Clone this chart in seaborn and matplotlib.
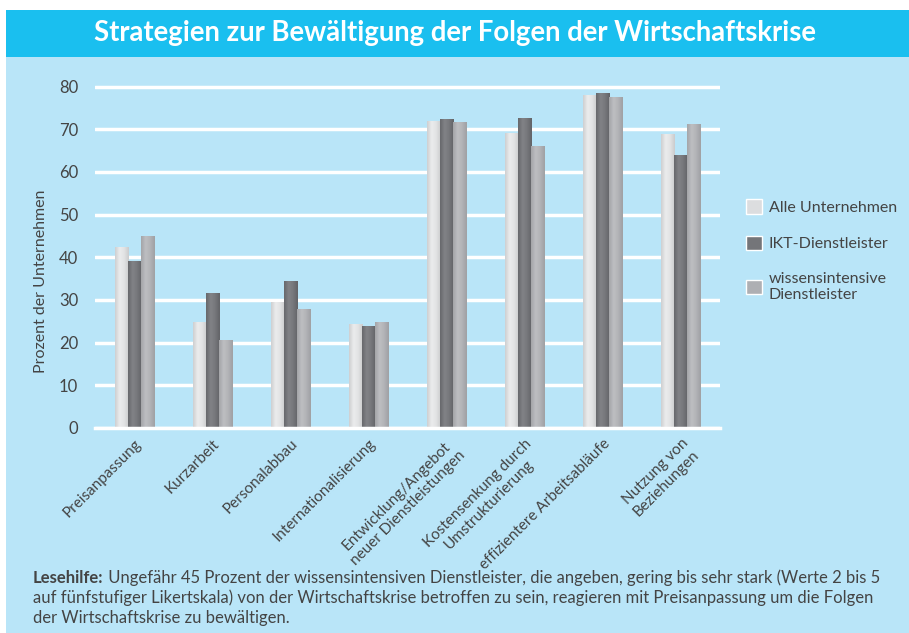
#Strategien zur Bewaeltigung der Folgen der Wirtschaftskrise

import matplotlib.pyplot as plt
import matplotlib.patches as mpatches
from matplotlib.colors import LinearSegmentedColormap
import numpy as np
import pandas as pd
import seaborn as sns

#data
kategorien = ['Preisanpassung', 'Kurzarbeit', 'Personalabbau', 'Internationalisierung',
              'Entwicklung/Angebot\nneuer Dienstleistungen', 'Kostensenkung durch\nUmstrukturierung',
              'effizientere Arbeitsabläufe', 'Nutzung von\nBeziehungen']
gruppen = ['Alle Unternehmen', 'IKT-Dienstleister', 'wissensintensive\nDienstleister']
alle = [42.3, 24.8, 29.5, 24.3, 72.0, 69.2, 78.1, 68.8]
ikt = [39.1, 31.6, 34.4, 23.9, 72.3, 72.7, 78.6, 63.9]
wiss = [44.9, 20.6, 27.8, 24.8, 71.6, 66.0, 77.6, 71.3]

df = pd.DataFrame({
    'Strategie': kategorien * 3,
    'Gruppe': [g for g in gruppen for _ in kategorien],
    'Prozent': alle + ikt + wiss,
})

#farben
hell_blau = '#B9E5F8'
titel_blau = '#1ABFEF'
text_farbe = '#444444'
farben = ['#DCDDDF', '#747579', '#AEAFB3']
verlauf = [
    ['#CDCED0', '#EBECED', '#E2E3E4', '#CACBCD'],
    ['#66676B', '#828387', '#76777B', '#626367'],
    ['#A3A4A8', '#BEBFC2', '#B2B3B6', '#9FA0A4'],
]

sns.set_style('white')
plt.rcParams['font.family'] = ['Lato', 'DejaVu Sans']

fig = plt.figure(figsize=(9.09, 6.33), dpi=100, facecolor='white')

#hintergrund und titelbalken
fig.patches.append(mpatches.Rectangle((6 / 909, 0), 1, 1 - 57 / 633, transform=fig.transFigure,
                                      facecolor=hell_blau, edgecolor='none', zorder=-2))
fig.patches.append(mpatches.Rectangle((6 / 909, 1 - 57 / 633), 1, 47 / 633, transform=fig.transFigure,
                                      facecolor=titel_blau, edgecolor='none', zorder=-1))
fig.text(0.5, 1 - 33 / 633, 'Strategien zur Bewältigung der Folgen der Wirtschaftskrise',
         ha='center', va='center', color='white', fontsize=19.8, fontweight='bold')

ax = fig.add_axes([95 / 909, 1 - 428 / 633, 625 / 909, 350 / 633])
ax.set_facecolor(hell_blau)

sns.barplot(data=df, x='Strategie', y='Prozent', hue='Gruppe', hue_order=gruppen,
            palette=farben, width=0.5, ax=ax, saturation=1, legend=True)

ax.set_ylim(0, 82)
ax.set_xlim(-0.5, len(kategorien) - 0.5)

#verlauf auf den balken
xlim, ylim = ax.get_xlim(), ax.get_ylim()
for i, container in enumerate(ax.containers):
    cmap = LinearSegmentedColormap.from_list('v%d' % i, verlauf[i])
    for bar in container:
        bar.set_edgecolor('none')
        x0, w, h = bar.get_x(), bar.get_width(), bar.get_height()
        grad = np.linspace(0, 1, 64).reshape(1, -1)
        im = ax.imshow(grad, cmap=cmap, extent=[x0, x0 + w, 0, h], aspect='auto',
                       zorder=bar.get_zorder() + 0.1, interpolation='bicubic')
        im.set_clip_path(bar)
ax.set_xlim(xlim)
ax.set_ylim(ylim)

#gitter und achsen
ax.set_yticks(range(0, 81, 10))
ax.yaxis.grid(True, color='white', linewidth=2.5)
ax.set_axisbelow(True)
for s in ['left', 'right', 'top']:
    ax.spines[s].set_visible(False)
ax.spines['bottom'].set_color('white')
ax.spines['bottom'].set_linewidth(2.5)
ax.tick_params(axis='y', length=0, pad=12, labelsize=12, labelcolor=text_farbe)
ax.tick_params(axis='x', which='major', length=0, pad=6)
ax.set_xticks(np.arange(-0.5, len(kategorien), 1), minor=True)
ax.tick_params(axis='x', which='minor', length=7, width=2.5, color='white', direction='out')
ax.set_xticklabels(kategorien, rotation=45, ha='right', rotation_mode='anchor',
                   fontsize=11, color=text_farbe, ma='center')
ax.set_xlabel('')
ax.set_ylabel('Prozent der Unternehmen', fontsize=11.5, color=text_farbe)
ax.yaxis.set_label_coords(-0.075, 0.42)

#legende
handles, labels = ax.get_legend_handles_labels()
ax.legend(handles, labels, loc='upper left', bbox_to_anchor=(732 / 909, 1 - 185 / 633),
          bbox_transform=fig.transFigure, frameon=False, fontsize=11.5, labelcolor=text_farbe,
          handlelength=1.0, handleheight=1.0, handletextpad=0.4, labelspacing=1.3)

#lesehilfe
t = fig.text(33 / 909, 1 - 578 / 633, 'Lesehilfe:', fontsize=12, fontweight='bold',
             color=text_farbe, va='center')
fig.canvas.draw()
ax.annotate(' Ungefähr 45 Prozent der wissensintensiven Dienstleister, die angeben, gering bis sehr stark (Werte 2 bis 5',
            xy=(1, 0.5), xycoords=t, va='center', ha='left', fontsize=12, color=text_farbe,
            annotation_clip=False)
fig.text(33 / 909, 1 - 598 / 633,
         'auf fünfstufiger Likertskala) von der Wirtschaftskrise betroffen zu sein, reagieren mit Preisanpassung um die Folgen',
         fontsize=12, color=text_farbe, va='center')
fig.text(33 / 909, 1 - 618 / 633, 'der Wirtschaftskrise zu bewältigen.',
         fontsize=12, color=text_farbe, va='center')

plt.savefig('out.png', dpi=100, facecolor=fig.get_facecolor())
